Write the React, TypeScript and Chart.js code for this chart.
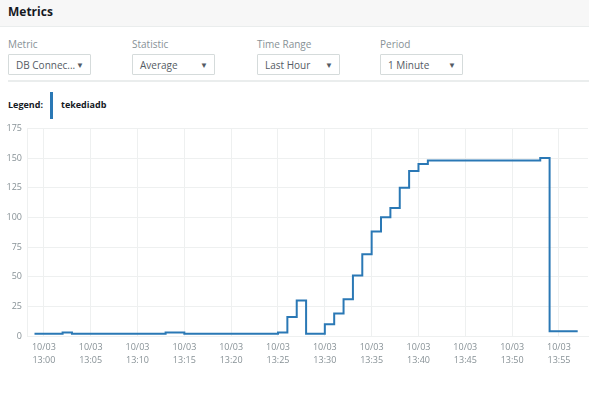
import React, { useEffect, useRef } from "react";
import { Chart, registerables } from "chart.js";

Chart.register(...registerables);

// minutes relative to 13:00 (each value holds until the next minute)
const minutes = [
  -1, 0, 1, 2, 3, 4, 5, 6, 7, 8, 9, 10, 11, 12, 13, 14, 15, 16, 17, 18, 19, 20,
  21, 22, 23, 24, 25, 26, 27, 28, 29, 30, 31, 32, 33, 34, 35, 36, 37, 38, 39,
  40, 41, 42, 43, 44, 45, 46, 47, 48, 49, 50, 51, 52, 53, 54, 55, 56, 57,
];
const connections = [
  2, 2, 2, 3, 2, 2, 2, 2, 2, 2, 2, 2, 2, 2, 3, 3, 2, 2, 2, 2, 2, 2,
  2, 2, 2, 2, 3, 16, 30, 2, 2, 10, 19, 31, 51, 69, 88, 100, 108, 125, 139,
  145, 148, 148, 148, 148, 148, 148, 148, 148, 148, 148, 148, 148, 150, 4, 4, 4, 4,
];
const tickMinutes = [0, 5, 10, 15, 20, 25, 30, 35, 40, 45, 50, 55];
const tickTimes = ["13:00", "13:05", "13:10", "13:15", "13:20", "13:25", "13:30", "13:35", "13:40", "13:45", "13:50", "13:55"];
const tickDate = "10/03";
const seriesName = "tekediadb";

const FONT = "'Open Sans', 'Noto Sans', sans-serif";
const BLUE = "#2a78b5";

function Select({ left, label, value }: { left: number; label: string; value: string }) {
  return (
    <>
      <div style={{ position: "absolute", left, top: 37, fontSize: 10, color: "#879196" }}>{label}</div>
      <div
        style={{
          position: "absolute",
          left,
          top: 54,
          width: 83,
          height: 21,
          border: "1px solid #d5dbdb",
          boxSizing: "border-box",
          background: "#fff",
          borderRadius: 1,
        }}
      >
        <span style={{ position: "absolute", left: 7, top: 3, fontSize: 10, color: "#545b64" }}>{value}</span>
        <span style={{ position: "absolute", right: 6, top: 4, fontSize: 8, color: "#545b64" }}>▼</span>
      </div>
    </>
  );
}

export default function App() {
  const ref = useRef<HTMLCanvasElement>(null);
  useEffect(() => {
    document.body.style.margin = "0";
    const chart = new Chart(ref.current!, {
      type: "line",
      data: {
        datasets: [
          {
            label: seriesName,
            data: minutes.map((m, i) => ({ x: m, y: connections[i] })),
            borderColor: BLUE,
            borderWidth: 2,
            pointRadius: 0,
            stepped: "before",
            fill: false,
          },
        ],
      },
      options: {
        animation: false,
        responsive: false,
        maintainAspectRatio: false,
        layout: { padding: { top: 9, right: 1, left: 0, bottom: 21 } },
        plugins: { legend: { display: false }, tooltip: { enabled: false } },
        scales: {
          x: {
            type: "linear",
            min: -1.8,
            max: 58.1,
            afterBuildTicks: (s: any) => {
              s.ticks = tickMinutes.map((v) => ({ value: v }));
            },
            afterFit: (s: any) => {
              s.height = 40;
            },
            grid: { color: "#eef0f0", drawTicks: false },
            border: { color: "#eef0f0" },
            ticks: {
              padding: 4,
              color: "#879196",
              font: { family: FONT, size: 9, lineHeight: 1.55 },
              maxRotation: 0,
              autoSkip: false,
              callback: (v: any) => {
                const i = tickMinutes.indexOf(Number(v));
                return i >= 0 ? [tickDate, tickTimes[i]] : "";
              },
            },
          },
          y: {
            min: 0,
            max: 175,
            afterFit: (s: any) => {
              s.width = 27;
            },
            grid: { color: "#eef0f0", drawTicks: false },
            border: { color: "#eef0f0" },
            ticks: {
              stepSize: 25,
              padding: 5,
              color: "#879196",
              font: { family: FONT, size: 9 },
            },
          },
        },
      },
    });
    return () => chart.destroy();
  }, []);

  return (
    <div
      style={{
        position: "absolute",
        left: 0,
        top: 0,
        width: 589,
        height: 397,
        background: "#fff",
        fontFamily: FONT,
        overflow: "hidden",
      }}
    >
      <div
        style={{
          position: "absolute",
          left: 0,
          top: 0,
          width: 589,
          height: 26,
          background: "#f7f7f7",
          borderBottom: "1px solid #eaeded",
        }}
      >
        <span style={{ position: "absolute", left: 8, top: 3, fontSize: 12, fontWeight: 700, color: "#16191f" }}>Metrics</span>
      </div>
      <Select left={8} label="Metric" value="DB Connec..." />
      <Select left={132} label="Statistic" value="Average" />
      <Select left={257} label="Time Range" value="Last Hour" />
      <Select left={380} label="Period" value="1 Minute" />
      <div style={{ position: "absolute", left: 8, top: 80, width: 581, height: 2, background: "#eaeded" }} />
      <div style={{ position: "absolute", left: 8, top: 98, fontSize: 9, fontWeight: 700, color: "#16191f" }}>Legend:</div>
      <div style={{ position: "absolute", left: 50, top: 92, width: 3, height: 27, background: BLUE }} />
      <div style={{ position: "absolute", left: 61, top: 98, fontSize: 9, fontWeight: 700, color: "#16191f" }}>{seriesName}</div>
      <canvas ref={ref} width={589} height={279} style={{ position: "absolute", left: 0, top: 118, width: 589, height: 279 }} />
    </div>
  );
}
